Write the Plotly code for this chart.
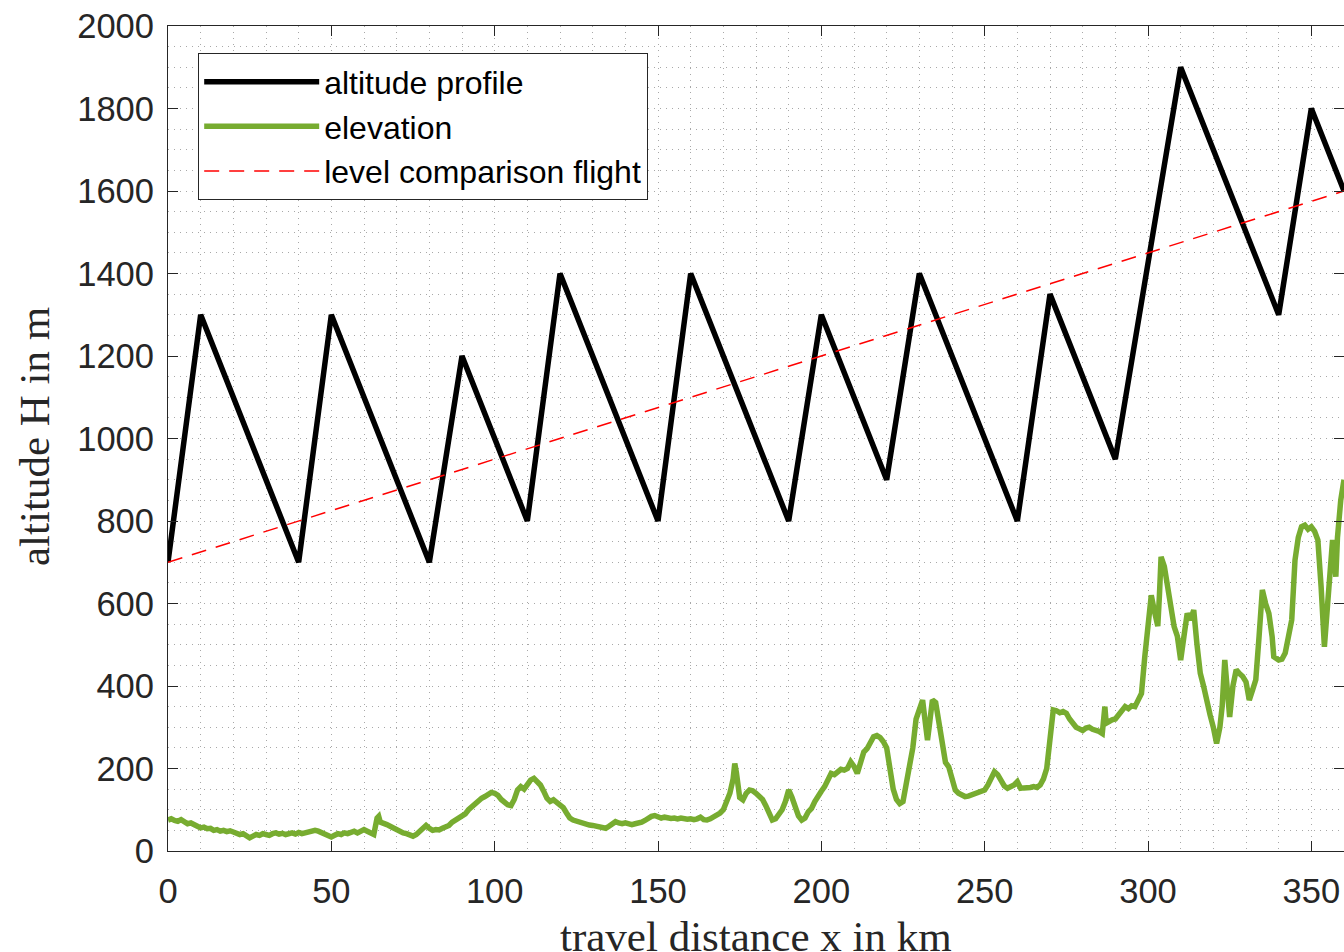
import plotly.graph_objects as go

# Flight altitude profile (sawtooth climb/glide pattern)
profile_x = [0, 10, 40, 50, 80, 90, 110, 120, 150, 160, 190, 200, 220, 230, 260, 270, 290, 310, 340, 350, 360]
profile_h = [700, 1300, 700, 1300, 700, 1200, 800, 1400, 800, 1400, 800, 1300, 900, 1400, 800, 1350, 950, 1900, 1300, 1800, 1600]

# Level comparison flight (straight climb)
level_x = [0, 360]
level_h = [700, 1600]

# Terrain elevation along the route
elev_x = [
    0, 1, 2, 3, 4, 5, 6, 7, 8, 9, 10, 11, 12, 13, 14, 15, 16, 17, 18, 19,
    20, 21, 22, 23, 24, 25, 26, 27, 28, 29, 30, 31, 32, 33, 34, 35, 36, 37, 38, 39,
    40, 41, 42, 43, 44, 45, 46, 47, 48, 49, 50, 51, 52, 53, 54, 55, 56, 57, 58, 59,
    60, 61, 62, 63, 64, 64.5, 65, 66, 67, 68, 69, 70, 71, 72, 73, 74, 75, 76, 77, 78, 79,
    80, 81, 82, 83, 84, 85, 86, 87, 88, 89, 90, 91, 92, 93, 94, 95, 96, 97, 98, 99,
    100, 101, 102, 103, 104, 105, 106, 107, 108, 109, 110, 111, 112, 113, 114, 115, 116, 117, 118, 119,
    120, 121, 122, 123, 124, 125, 126, 127, 128, 129, 130, 131, 132, 133, 134, 135, 136, 137, 138, 139,
    140, 141, 142, 143, 144, 145, 146, 147, 148, 149, 150, 151, 152, 153, 154, 155, 156, 157, 158, 159,
    160, 161, 162, 163, 164, 165, 166, 167, 168, 169, 170, 171, 172, 173, 173.5, 174, 174.5, 175, 176, 177, 178, 179,
    180, 181, 182, 183, 184, 185, 186, 187, 188, 189, 190, 191, 192, 193, 194, 195, 196, 197, 198, 199,
    200, 201, 202, 203, 204, 205, 206, 207, 208, 209, 210, 211, 212, 213, 214, 215, 216, 217, 218, 219,
    220, 221, 222, 223, 224, 225, 226, 227, 228, 229, 230, 231, 232, 232.5, 233, 234, 235, 236, 237, 238, 239,
    240, 241, 242, 243, 244, 245, 246, 247, 248, 249, 250, 251, 252, 253, 254, 255, 256, 257, 258, 259,
    260, 260.5, 261, 262, 263, 264, 265, 266, 267, 268, 269, 270, 271, 272, 273, 274, 275, 276, 277, 278, 279,
    280, 281, 282, 283, 284, 285, 286, 286.8, 287.2, 288, 289, 290, 291, 292, 293, 294, 295, 296, 297, 298, 299,
    300, 301, 302, 303, 303.5, 304, 305, 306, 307, 308, 309, 310, 311, 312, 313, 314, 315, 316, 317, 318, 319,
    320, 321, 322, 322.7, 323.5, 324.2, 325, 326, 327, 328, 329, 330, 331, 332, 333, 334, 335, 336, 337, 338, 338.5,
    340, 341, 342, 343, 344, 345, 346, 347, 348, 349, 350, 351, 352, 353, 354, 355, 356, 356.5, 357, 357.5, 358, 358.5,
    359, 360,
]
elev_h = [
    75, 78, 74, 72, 76, 70, 66, 68, 62, 60, 56, 58, 54, 55, 50, 52, 48, 50, 47, 49,
    46, 44, 40, 42, 36, 32, 36, 40, 38, 42, 40, 38, 42, 44, 41, 43, 40, 42, 44, 41,
    45, 42, 44, 46, 48, 50, 48, 44, 40, 36, 34, 38, 42, 40, 44, 42, 46, 48, 44, 48,
    52, 48, 42, 40, 80, 84, 70, 68, 64, 60, 56, 50, 47, 44, 42, 38, 36, 40, 48, 58, 62,
    55, 50, 52, 51, 55, 58, 62, 70, 75, 80, 82, 90, 100, 108, 112, 122, 128, 132, 138, 142,
    140, 135, 125, 118, 112, 110, 125, 148, 156, 150, 162, 172, 176, 168, 160, 145, 128, 120, 124, 118,
    112, 105, 92, 80, 75, 72, 70, 66, 64, 63, 62, 60, 58, 56, 55, 60, 66, 71, 68, 66,
    68, 66, 64, 66, 67, 70, 74, 80, 84, 86, 82, 80, 82, 80, 79, 80, 78, 80, 78, 77,
    78, 76, 78, 82, 76, 75, 78, 82, 85, 92, 100, 118, 140, 175, 212, 190, 150, 130, 124, 140, 148, 146,
    140, 132, 125, 110, 90, 75, 78, 88, 100, 120, 148, 130, 105, 85, 75, 80, 95, 103, 120, 130,
    145, 156, 175, 188, 185, 192, 198, 196, 200, 216, 205, 188, 215, 240, 248, 262, 277, 280, 275, 265,
    250, 200, 150, 125, 115, 120, 160, 204, 250, 320, 345, 366, 300, 269, 300, 366, 360, 310, 250, 215, 204,
    170, 148, 140, 135, 132, 133, 136, 138, 140, 142, 148, 160, 180, 192, 185, 168, 158, 152, 155, 160,
    168, 160, 152, 153, 152, 154, 156, 154, 160, 175, 200, 285, 342, 340, 335, 338, 334, 320, 310, 300, 296,
    292, 298, 300, 295, 293, 290, 285, 350, 310, 315, 318, 320, 330, 340, 350, 345, 352, 350, 365, 382, 470,
    540, 620, 580, 545, 620, 713, 690, 640, 600, 544, 520, 463, 520, 576, 560, 584, 500, 431, 400, 360, 330,
    300, 261, 300, 350, 463, 400, 325, 400, 439, 430, 423, 410, 366, 390, 415, 520, 633, 600, 576, 520, 471,
    463, 465, 480, 520, 560, 705, 760, 786, 790, 780, 786, 775, 754, 640, 495, 600, 700, 754, 720, 665, 760, 827,
    850, 900,
]

x_ticks = [0, 50, 100, 150, 200, 250, 300, 350]
y_ticks = [0, 200, 400, 600, 800, 1000, 1200, 1400, 1600, 1800, 2000]

AX_COLOR = "#262626"
GRID_COLOR = "#a8a8a8"
SANS = "Liberation Sans, Arial, sans-serif"
SERIF = "Liberation Serif, Times New Roman, serif"

fig = go.Figure()
fig.add_trace(go.Scatter(
    x=profile_x, y=profile_h, mode="lines", name="altitude profile",
    line=dict(color="#000000", width=5.5),
))
fig.add_trace(go.Scatter(
    x=elev_x, y=elev_h, mode="lines", name="elevation",
    line=dict(color="#77AC30", width=5.5),
))
fig.add_trace(go.Scatter(
    x=level_x, y=level_h, mode="lines", name="level comparison flight",
    line=dict(color="#FF0000", width=1.5, dash="15px,10px"),
))

axis_common = dict(
    showline=True, linecolor=AX_COLOR, linewidth=1.2, mirror="allticks",
    ticks="inside", ticklen=10, tickwidth=1.2, tickcolor=AX_COLOR,
    tickfont=dict(family=SANS, size=34.5, color=AX_COLOR),
    showgrid=True, gridcolor=GRID_COLOR, gridwidth=1, griddash="1px,5px",
    zeroline=False,
)

fig.update_xaxes(
    range=[0, 360], tickvals=x_ticks, ticktext=[str(v) for v in x_ticks],
    minor=dict(dtick=10, tick0=0, showgrid=True, gridcolor=GRID_COLOR, gridwidth=1,
               griddash="1px,5px", ticks=""),
    ticklabelstandoff=9,
    **axis_common,
)
fig.update_yaxes(
    range=[0, 2000], tickvals=y_ticks, ticktext=[str(v) for v in y_ticks],
    minor=dict(dtick=50, tick0=0, showgrid=True, gridcolor=GRID_COLOR, gridwidth=1,
               griddash="1px,5px", ticks=""),
    ticklabelstandoff=6,
    **axis_common,
)

fig.update_layout(
    width=1344, height=952,
    margin=dict(l=168, r=0, t=26, b=101, pad=0),
    paper_bgcolor="white", plot_bgcolor="white",
    showlegend=True,
    legend=dict(
        x=0.0255, y=0.967, xanchor="left", yanchor="top",
        bgcolor="white", bordercolor=AX_COLOR, borderwidth=1.2,
        font=dict(family=SANS, size=32, color="#000000"),
        itemwidth=115, tracegroupgap=0,
    ),
    annotations=[
        dict(text="travel distance x in km", xref="paper", yref="paper",
             x=0.5, y=-0.104, xanchor="center", yanchor="middle", showarrow=False,
             font=dict(family=SERIF, size=43, color=AX_COLOR)),
        dict(text="altitude H in m", xref="paper", yref="paper",
             x=-0.113, y=0.502, xanchor="center", yanchor="middle", showarrow=False,
             textangle=-90, font=dict(family=SERIF, size=43, color=AX_COLOR)),
    ],
)

fig.write_html("out.html")
